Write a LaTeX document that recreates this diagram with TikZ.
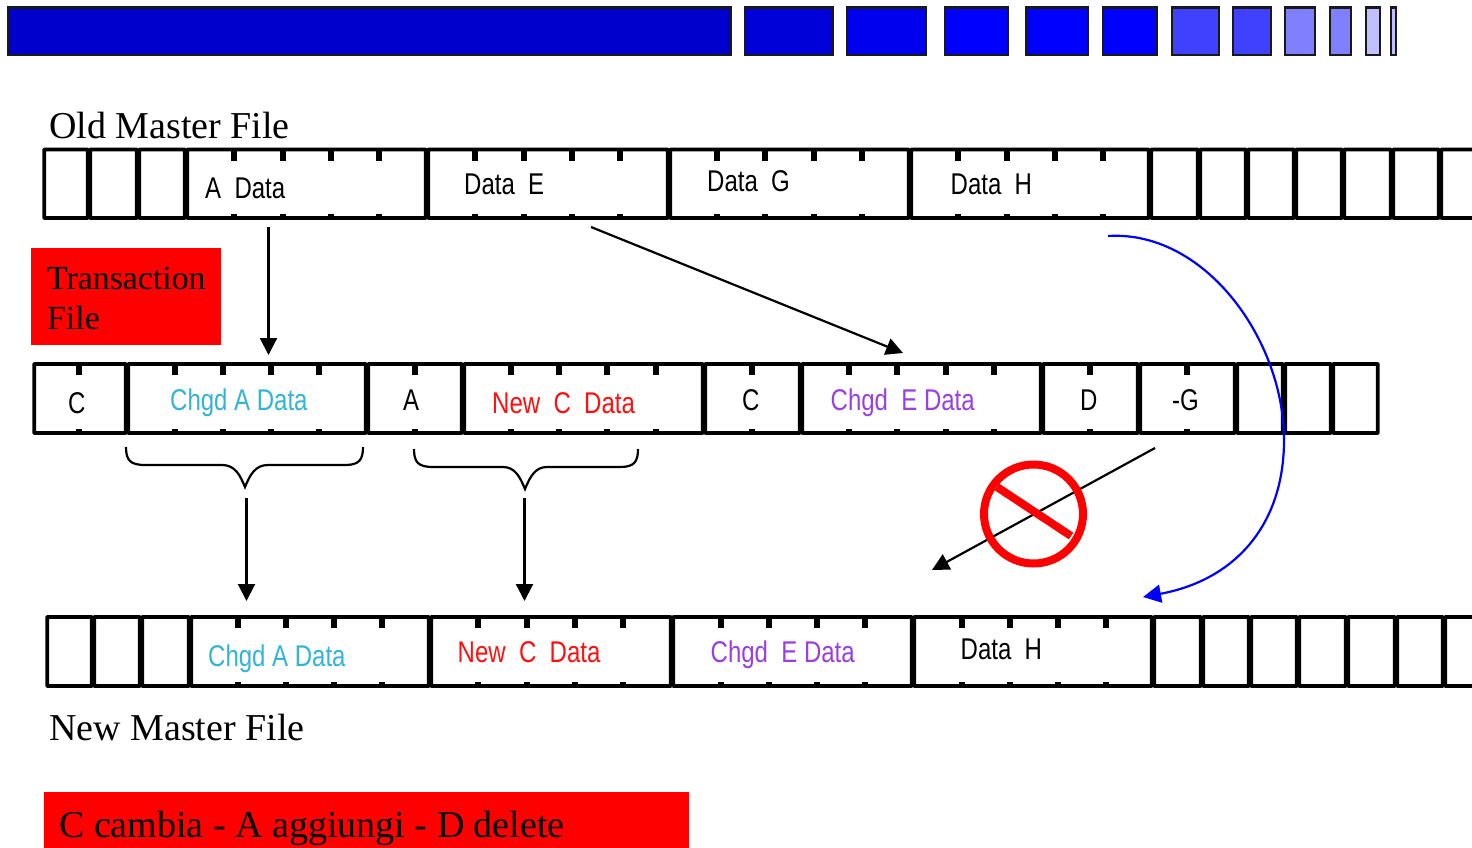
\documentclass[tikz,border=0pt]{standalone}
\usepackage{fontspec}
\setmainfont{Liberation Serif}
\newfontfamily\narrowsans[FakeStretch=0.8]{Liberation Sans}
\usetikzlibrary{arrows.meta}
\definecolor{tealtxt}{HTML}{33B4D6}
\definecolor{purptxt}{HTML}{9A3FE0}
\definecolor{redtxt}{HTML}{FF1010}
\tikzset{
  cellbox/.style={draw=black,line width=3.8pt,rounded corners=0.6pt,inner sep=0pt,outer sep=0pt,fill=white},
  barbox/.style={draw=black!90,line width=2.4pt,inner sep=0pt,outer sep=0pt},
  tickmark/.style={draw=black,line width=5.5pt},
  sanslabel/.style={anchor=base west,inner sep=0pt,font=\narrowsans\fontsize{30}{34}\selectfont},
  seriflabel/.style={anchor=base west,inner sep=0pt,font=\fontsize{38}{42}\selectfont},
  redbox/.style={fill=red,draw=none,inner sep=0pt,outer sep=0pt},
  flowarrow/.style={draw=black,line width=2.2pt,-{Triangle[length=17pt,width=17pt]}},
  bracepath/.style={draw=black,line width=2.2pt},
}
\newcommand{\cellrow}[4]{% prefix, top, bottom, list of a/b
  \foreach \a/\b in {#4}{
    \pgfmathsetmacro{\cw}{\b-\a-2.4}
    \pgfmathsetmacro{\ch}{#3-#2}
    \pgfmathsetmacro{\cx}{(\a+\b)/2}
    \pgfmathsetmacro{\cy}{(#2+#3)/2}
    \node[cellbox,minimum width=\cw pt,minimum height=\ch pt] (#1\a) at (\cx,\cy) {};
  }
}
\newcommand{\tickrow}[3]{% top, bottom, list of x
  \foreach \t in {#3}{
    \draw[tickmark] (\t,#1) -- (\t,#1+11);
    \draw[tickmark] (\t,#2) -- (\t,#2-4.5);
  }
}
\begin{document}
\begin{tikzpicture}[x=1pt,y=-1pt]
\useasboundingbox (0,0) rectangle (1472,848);
\clip (0,0) rectangle (1472,848);
\fill[white] (0,0) rectangle (1472,848);
% top bar
\foreach \a/\b/\c [count=\i] in {7/732/0000CC,744/834/0000D8,846/927/0000EE,944/1009/0000FF,1025/1089/0000FF,1102/1158/0000FF,1171/1220/4040FF,1232/1272/4040FF,1284/1316/8080FF,1329/1352/8080FF,1365/1381/C0C0FF,1390/1397/C0C0FF}{
  \definecolor{barfill}{HTML}{\c}
  \pgfmathsetmacro{\cw}{\b-\a-1.6}
  \pgfmathsetmacro{\cx}{(\a+\b)/2}
  \node[barbox,fill=barfill,minimum width=\cw pt,minimum height=47.6pt] (bar\i) at (\cx,31.2) {};
}
% row 1
\cellrow{old}{149.5}{218}{43/89,89/138,138/186,186/427,427/669,669/910,910/1150,1150/1199,1199/1247,1247/1295,1295/1343,1343/1392,1392/1440,1440/1488}
\tickrow{149.5}{218}{234,283,331,379,475,524,572,620,717,765,814,862,958,1007,1055,1103}
% row 2
\cellrow{trn}{364}{433}{33/127,127/367,367/463,463/704,704/801,801/1042,1042/1139,1139/1236,1236/1284,1284/1332,1332/1379}
\tickrow{364}{433}{79,175,223,271,319,415,511,559,607,656,752,849,897,946,994,1090,1187}
% row 3
\cellrow{new}{617}{686}{46/93,93/141,141/190,190/430,430/672,672/913,913/1153,1153/1202,1202/1250,1250/1298,1298/1347,1347/1396,1396/1444,1444/1492}
\tickrow{617}{686}{238,286,334,382,478,527,575,623,721,769,817,865,962,1010,1058,1106}
% labels row 1
\node[sanslabel] (t1) at (205,198) {A\ \ Data};
\node[sanslabel] (t2) at (464,194) {Data\ \ E};
\node[sanslabel] (t3) at (707,191) {Data\ \ G};
\node[sanslabel] (t4) at (950.5,194) {Data\ \ H};
% labels row 2
\node[sanslabel] (u1) at (68,413) {C};
\node[sanslabel,text=tealtxt] (u2) at (170,410) {Chgd A Data};
\node[sanslabel] (u3) at (403,410) {A};
\node[sanslabel,text=redtxt] (u4) at (492,413) {New\ \ C\ \ Data};
\node[sanslabel] (u5) at (742,410) {C};
\node[sanslabel,text=purptxt] (u6) at (830.5,410) {Chgd\ \ E Data};
\node[sanslabel] (u7) at (1080,410) {D};
\node[sanslabel] (u8) at (1172,410) {-G};
% labels row 3
\node[sanslabel,text=tealtxt] (v1) at (208,666) {Chgd A Data};
\node[sanslabel,text=redtxt] (v2) at (457.5,662) {New\ \ C\ \ Data};
\node[sanslabel,text=purptxt] (v3) at (710.5,662) {Chgd\ \ E Data};
\node[sanslabel] (v4) at (960.5,659) {Data\ \ H};
% red boxes and titles
\fill[redbox] (31,248) rectangle (221,345);
\fill[redbox] (44,792) rectangle (689,848);
\node[seriflabel] (oldtitle) at (49,139) {Old Master File};
\node[seriflabel,font=\fontsize{33.8}{38}\selectfont] (transa) at (47,289) {Transaction};
\node[seriflabel,font=\fontsize{33.8}{38}\selectfont] (transb) at (47,329) {File};
\node[seriflabel] (newtitle) at (49,740) {New Master File};
\node[seriflabel] (legend) at (59,837) {C cambia - A aggiungi - D delete};
% connector ends
\coordinate (a1) at (268.5,227); \coordinate (a2) at (268.5,355);
\coordinate (e1) at (591,227);   \coordinate (e2) at (903,353);
\coordinate (b1) at (246.5,498); \coordinate (b2) at (246.5,601);
\coordinate (c1) at (524.5,498); \coordinate (c2) at (524.5,601);
\coordinate (g1) at (1155,448);  \coordinate (g2) at (932,570);
\coordinate (h1) at (1108,236);  \coordinate (h2) at (1143,597);
\draw[flowarrow] (a1) -- (a2);
\draw[flowarrow] (e1) -- (e2);
\draw[flowarrow] (b1) -- (b2);
\draw[flowarrow] (c1) -- (c2);
\draw[flowarrow] (g1) -- (g2);
% blue curve
\draw[draw=blue,line width=2.2pt,-{Triangle[length=18pt,width=18pt]}] (h1) .. controls (1205,230) and (1284,340) .. (1284,440) .. controls (1284,525) and (1235,580) .. (h2);
% braces
\draw[bracepath] (126,447) .. controls (126,460) and (130,465) .. (145,465) -- (222,465) .. controls (235,465) and (240,475) .. (245,487) .. controls (250,475) and (255,465) .. (268,465) -- (345,465) .. controls (359,465) and (363,460) .. (363,447);
\draw[bracepath] (414,449) .. controls (414,462) and (418,467) .. (433,467) -- (503,467) .. controls (515,467) and (520,477) .. (525,489) .. controls (530,477) and (535,467) .. (547,467) -- (620,467) .. controls (634,467) and (638,462) .. (638,449);
% prohibition sign
\node[circle,draw=red,line width=8pt,minimum size=99pt,inner sep=0pt] (nosign) at (1033.5,514) {};
\draw[draw=red,line width=8pt] (997,487) -- (1071,536);
\end{tikzpicture}
\end{document}
